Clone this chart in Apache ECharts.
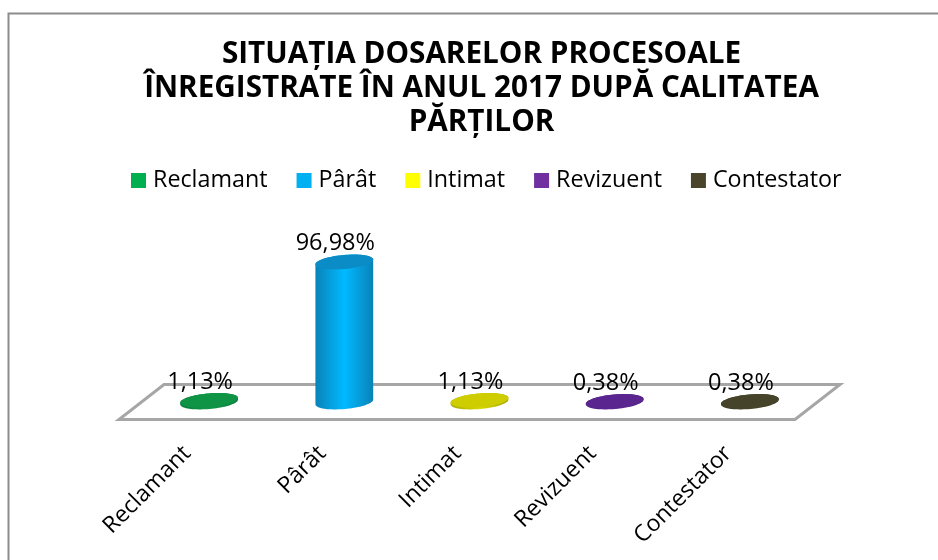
<!DOCTYPE html>
<html><head><meta charset="utf-8">
<style>html,body{margin:0;padding:0;background:#fff}#c{width:938px;height:560px}</style>
<script src="https://cdn.jsdelivr.net/npm/echarts@6/dist/echarts.min.js"></script>
</head><body><div id="c"></div>
<script>
const categories = ['Reclamant','Pârât','Intimat','Revizuent','Contestator'];
const values = [1.13,96.98,1.13,0.38,0.38];
const legendColors = ['#00B050','#00B0F0','#FFFF00','#7030A0','#4A452A'];
const bodyEdge = ['#0B7A3A','#0A82B8','#A8A800','#4A1F78','#37351F'];
const bodyMid = ['#109A48','#00BAFF','#D8D800','#612A98','#4C482E'];
const capColors = ['#0F9344','#0B8CC6','#CDCD00','#5B2590','#46432B'];
const titleText = 'SITUAȚIA DOSARELOR PROCESOALE\nÎNREGISTRATE ÎN ANUL 2017 DUPĂ CALITATEA\nPĂRȚILOR';
const FONT = 'Open Sans';

function ellipsePts(cx, cy, from, to){
  const rx=29, ry=7, a=-5*Math.PI/180, pts=[];
  for(let k=0;k<=40;k++){
    const t=from+(to-from)*k/40;
    const ex=rx*Math.cos(t), ey=ry*Math.sin(t);
    pts.push([cx+ex*Math.cos(a)-ey*Math.sin(a), cy+ex*Math.sin(a)+ey*Math.cos(a)]);
  }
  return pts;
}
function cylinder(i){
  return function(params, api){
    const base=api.coord([api.value(0),0]), top=api.coord([api.value(0),api.value(1)]);
    const topPts=ellipsePts(top[0],top[1],Math.PI,2*Math.PI);
    const botPts=ellipsePts(base[0],base[1],0,Math.PI);
    const grad={type:'linear',x:0,y:0,x2:1,y2:0,colorStops:[
      {offset:0,color:bodyEdge[i]},{offset:0.5,color:bodyMid[i]},{offset:1,color:bodyEdge[i]}]};
    return {type:'group',children:[
      {type:'polygon',shape:{points:topPts.concat(botPts)},style:{fill:grad}},
      {type:'polygon',shape:{points:ellipsePts(top[0],top[1],0,2*Math.PI)},style:{fill:capColors[i]}},
      {type:'text',style:{text:api.value(1).toFixed(2).replace('.',',')+'%',
        x:top[0]-9,y:top[1]-18.5,align:'center',verticalAlign:'middle',
        font:'23.5px "'+FONT+'"',fill:'#000'}}
    ]};
  };
}
const floorSeries={type:'custom',name:'floor',silent:true,z:1,data:[[0,0]],
  renderItem(params,api){
    const g=params.coordSys, y=api.coord([0,0])[1], dx=22.5, dy=17.5;
    return {type:'polygon',shape:{points:[[g.x-dx,y+dy],[g.x+g.width-dx,y+dy],[g.x+g.width+dx,y-dy],[g.x+dx,y-dy]]},
      style:{fill:'#fff',stroke:'#A6A6A6',lineWidth:3}};
  }};
const option={
  animation:false,
  backgroundColor:'#fff',
  color:legendColors,
  graphic:[{type:'rect',silent:true,z:-1,shape:{x:8.5,y:13.5,width:945,height:560},style:{fill:'none',stroke:'#8c8c8c',lineWidth:2}}],
  title:{text:titleText,left:476.5,top:33,textAlign:'center',
    textStyle:{fontFamily:FONT,fontWeight:'bold',fontSize:29.7,lineHeight:34,color:'#000'}},
  legend:{data:categories,left:126,top:164,itemWidth:15,itemHeight:15,itemGap:29,icon:'rect',
    textStyle:{fontFamily:FONT,fontSize:23.3,color:'#000',padding:[0,0,0,2]}},
  grid:{left:141.5,top:257.6,width:676,height:144.4},
  xAxis:{type:'category',data:categories,axisLine:{show:false},axisTick:{show:false},
    axisLabel:{rotate:45,margin:26,interval:0,fontFamily:FONT,fontSize:23,color:'#000',padding:[0,31,0,0]}},
  yAxis:{type:'value',min:0,max:100,show:false},
  series:[floorSeries].concat(categories.map((c,i)=>({
    type:'custom',name:c,z:3,itemStyle:{color:legendColors[i]},
    encode:{x:0,y:1},data:[[i,values[i]]],renderItem:cylinder(i),clip:false
  })))
};
echarts.init(document.getElementById('c')).setOption(option);
</script></body></html>
